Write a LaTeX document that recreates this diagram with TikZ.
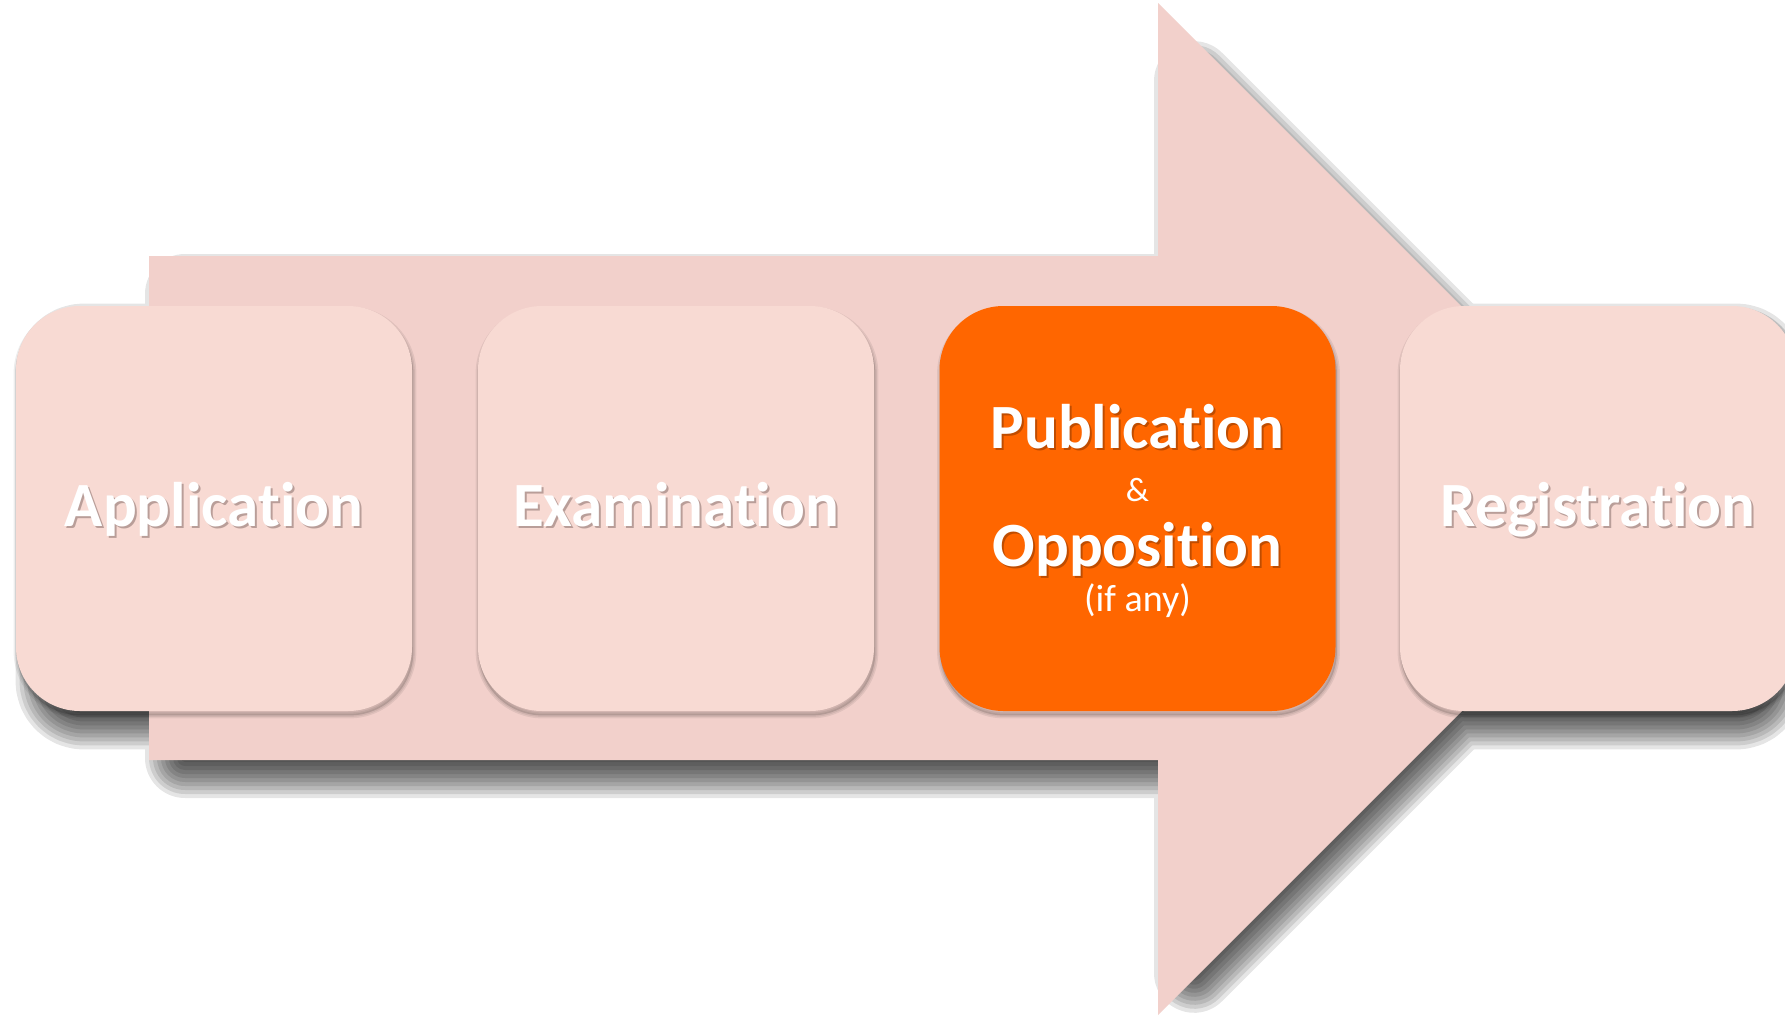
\documentclass[tikz,border=0pt]{standalone}
\usepackage{fontspec}
\setmainfont{Carlito}[Ligatures=NoCommon]
\definecolor{arrowpink}{HTML}{F2D0CB}
\definecolor{boxpink}{HTML}{F8DAD3}
\definecolor{hot}{HTML}{FF6600}
\definecolor{txtshadow}{HTML}{7C6460}
\pgfdeclarelayer{shadowlayer}
\pgfdeclarelayer{arrowlayer}
\pgfdeclarelayer{boxshadowlayer}
\pgfsetlayers{shadowlayer,arrowlayer,boxshadowlayer,main}
\tikzset{
  arrowshape/.style={insert path={(149,256) -- (1158,256) -- (1158,3) -- (1664,509) -- (1158,1015) -- (1158,760) -- (149,760) -- cycle}},
  % shadow core: horizontal inset 32, vertical inset 20, diagonal inset 20
  arrowcore/.style={insert path={(181,276) -- (1190,276) -- (1190,63.3) -- (1635.7,509) -- (1190,954.7) -- (1190,740) -- (181,740) -- cycle}},
  stage/.style={minimum width=198pt, minimum height=202.5pt, inner sep=0pt, rounded corners=32pt, fill=boxpink, draw=none},
  hotstage/.style={stage, fill=hot},
  bigtext/.style={font=\bfseries\fontsize{31.5}{38}\selectfont, text=white, inner sep=0pt, anchor=base},
  bigshadow/.style={bigtext, text=txtshadow, opacity=0.5},
  amptext/.style={font=\fontsize{17}{20}\selectfont, text=white, inner sep=0pt, anchor=base},
  smalltext/.style={font=\fontsize{19}{23}\selectfont, text=white, inner sep=0pt, anchor=base},
  hotshadow/.style={bigtext, text=black, opacity=0.25},
}
\begin{document}
\begin{tikzpicture}[x=0.5pt, y=-0.5pt]
\useasboundingbox (0,0) rectangle (1785,1018);

% stages
\node[stage] (app) at (214,508.5) {};
\node[stage] (exam) at (676,508.5) {};
\node[hotstage] (pub) at (1137.5,508.5) {};
\node[stage] (reg) at (1598,508.5) {};

% soft overall shadow (core shape, widened step by step, offset down-right)
\begin{pgfonlayer}{shadowlayer}
\fill[white] (0,0) rectangle (1785,1018);
\foreach \e in {0,4,8,12,16,20,24,28,32,36,40} {
  \begin{scope}[transparency group, opacity=0.1]
    \filldraw[black, line width=\e pt, line join=round, shift={(4,18)}, arrowcore];
    \foreach \b in {app,exam,pub,reg} {
      \filldraw[black, line width=\e pt, line join=round, rounded corners=14pt]
        ([shift={(40,-2)}]\b.south west) rectangle ([shift={(-32,38)}]\b.north east);
    }
  \end{scope}
}
\end{pgfonlayer}

% the big arrow
\begin{pgfonlayer}{arrowlayer}
\fill[arrowpink, arrowshape];
\end{pgfonlayer}

% small box shadows on the arrow
\begin{pgfonlayer}{boxshadowlayer}
\foreach \b in {app,exam,pub,reg} {
  \foreach \w in {6,3} {
    \filldraw[black, opacity=0.07, line width=\w*0.5pt, rounded corners=32pt]
      ([shift={(1,4)}]\b.south west) rectangle ([shift={(1,4)}]\b.north east);
  }
}
\end{pgfonlayer}

% labels
\node[bigshadow] (appsh) at (216,528.5) {Application};
\node[bigtext] (applbl) at (214,526) {Application};
\node[bigshadow] (examsh) at (678,528.5) {Examination};
\node[bigtext] (examlbl) at (676,526) {Examination};
\node[bigshadow] (regsh) at (1600,528.5) {Registration};
\node[bigtext] (reglbl) at (1598,526) {Registration};

\node[hotshadow] (pubsh) at (1139.5,450) {Publication};
\node[bigtext] (publbl) at (1137.5,448) {Publication};
\node[amptext] (amp) at (1137.5,501) {\&};
\node[hotshadow] (oppsh) at (1139.5,568) {Opposition};
\node[bigtext] (opplbl) at (1137.5,566) {Opposition};
\node[smalltext] (ifany) at (1137.5,611) {(if any)};
\end{tikzpicture}
\end{document}
